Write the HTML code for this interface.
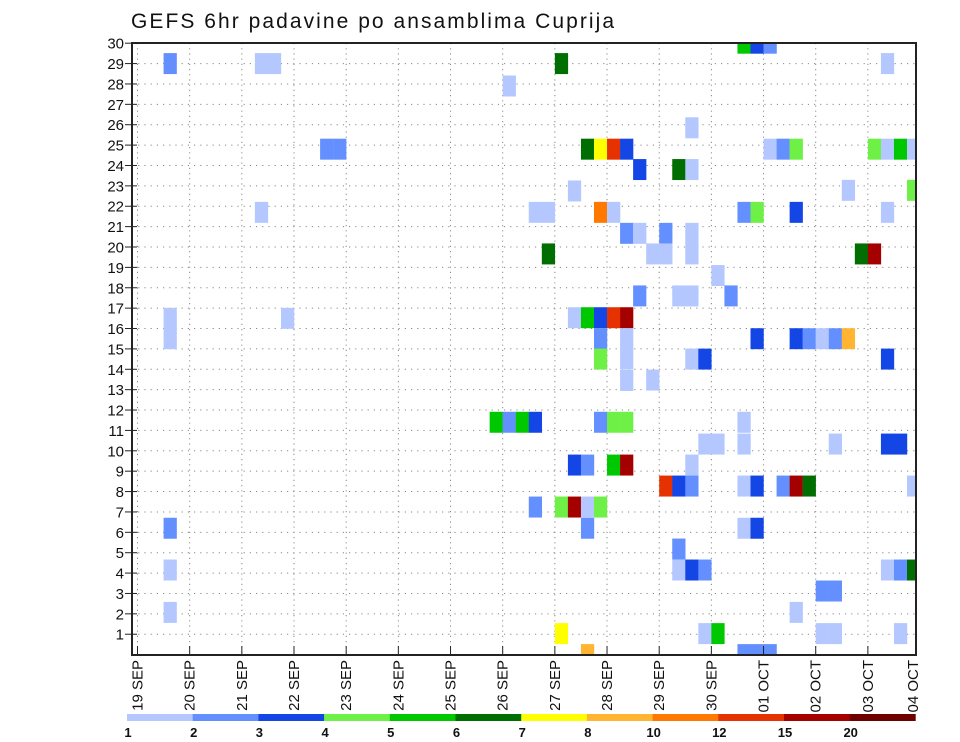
<!DOCTYPE html>
<html><head><meta charset="utf-8"><style>
html,body{margin:0;padding:0;background:#fff;}
svg{display:block;font-family:"Liberation Sans",sans-serif;}
</style></head><body>
<svg id="chart" width="960" height="742" viewBox="0 0 960 742" xmlns="http://www.w3.org/2000/svg">
<text x="131" y="28" font-size="21" fill="#111" textLength="483" lengthAdjust="spacing">GEFS 6hr padavine po ansamblima Cuprija</text>
<defs><clipPath id="plotclip"><rect x="132" y="43" width="784" height="612"/></clipPath></defs>
<g id="grid"></g>
<g id="cells" clip-path="url(#plotclip)"></g>
<g id="axes"></g>
<g id="cbar"></g>
</svg>
<script>
const dayLabels=["19 SEP","20 SEP","21 SEP","22 SEP","23 SEP","24 SEP","25 SEP","26 SEP","27 SEP","28 SEP","29 SEP","30 SEP","01 OCT","02 OCT","03 OCT","04 OCT"];
const memberTicks=[1,2,3,4,5,6,7,8,9,10,11,12,13,14,15,16,17,18,19,20,21,22,23,24,25,26,27,28,29,30];
const levelLabels=["1","2","3","4","5","6","7","8","10","12","15","20"];
const levelColors=["#b4c8ff","#6490ff","#1446e6","#6ef046","#00c800","#006e00","#ffff00","#ffb432","#ff7800","#e63200","#a50000","#6e0000"];
const cellCol=[2,9,10,14,15,9,11,2,2,2,2,2,
32,28,42,34,35,36,37,38,41,42,33,30,31,35,36,37,38,40,42,31,39,40,42,44,38,41,42,45,
33,34,35,36,37,35,37,35,37,42,43,37,39,27,28,29,30,35,36,37,43,44,33,34,36,37,42,
40,41,42,30,32,33,34,35,34,41,41,42,43,32,43,44,34,
46,47,48,57,48,49,50,56,57,58,59,54,59,46,47,50,57,55,56,47,50,51,52,53,54,57,
46,46,53,57,58,46,47,49,50,51,59,46,47,57,58,59,52,53,50,52,53,58,46,47,48];
const cellMember=[29,29,29,24.8,24.8,21.7,16.5,16.5,15.5,6.2,4.15,2.07,
29,27.9,25.85,24.8,24.8,24.8,24.8,23.8,23.8,23.8,22.75,21.7,21.7,21.7,21.7,20.67,20.67,20.67,20.67,19.66,19.66,19.66,19.66,18.6,17.6,17.6,17.6,17.6,
16.53,16.53,16.53,16.53,16.53,15.5,15.5,14.5,14.5,14.5,14.5,13.45,13.47,11.4,11.4,11.4,11.4,11.4,11.4,11.4,10.33,10.33,9.3,9.3,9.3,9.3,9.3,
8.27,8.27,8.27,7.24,7.24,7.24,7.24,7.24,6.2,5.18,4.15,4.15,4.15,1.03,1.03,1.03,0,
30,30,30,29,24.8,24.8,24.8,24.8,24.8,24.8,24.8,22.78,22.78,21.7,21.7,21.7,21.7,19.66,19.66,15.5,15.5,15.5,15.5,15.5,15.5,14.5,
11.4,10.33,10.33,10.33,10.33,8.27,8.27,8.27,8.27,8.27,8.27,6.2,6.2,4.15,4.15,4.15,3.12,3.12,2.07,1.03,1.03,1.03,0,0,0];
const cellLevel=[1,0,0,1,1,0,0,0,0,1,0,0,
5,0,0,5,6,9,2,2,5,0,0,0,0,8,0,1,0,1,0,5,0,0,0,0,1,0,0,1,
0,4,2,9,10,1,0,3,0,0,2,0,0,4,1,4,2,1,3,3,0,0,2,1,4,10,0,
9,2,1,1,3,10,0,3,1,1,0,2,1,6,0,4,7,
4,2,1,0,0,1,3,3,0,4,0,0,3,1,3,2,0,5,10,2,2,1,0,1,7,2,
0,0,0,2,2,0,2,1,10,5,0,0,2,0,1,5,1,1,0,0,0,0,1,1,1];

const NS="http://www.w3.org/2000/svg";
const X0=137.5, DAYW=52.17, CW=DAYW/4, YB=654.6, RH=20.38;
const PL=132, PR=916, PT=43, PB=655;
function xCol(i){return X0+i*CW;}
function xDay(d){return X0+d*DAYW;}
function yMem(m){return YB-m*RH;}
function mk(tag,attrs,parent){const e=document.createElementNS(NS,tag);for(const k in attrs)e.setAttribute(k,attrs[k]);parent.appendChild(e);return e;}

const grid=document.getElementById('grid');
memberTicks.forEach(m=>{
  if(m>=30) return;
  const l=mk('line',{x1:PL,x2:PR,y1:yMem(m),y2:yMem(m),stroke:'#888','stroke-width':1,'stroke-dasharray':'1.2,5'},grid);
  
  
});
dayLabels.forEach((d,k)=>{
  const x=xDay(k); if(x>PR-2) return;
  const l=mk('line',{x1:x,x2:x,y1:PT,y2:PB,stroke:'#888','stroke-width':1,'stroke-dasharray':'1.2,4'},grid);
  
  
});

const cells=document.getElementById('cells');
for(let n=0;n<cellCol.length;n++){
  const r=mk('rect',{x:xCol(cellCol[n]),y:yMem(cellMember[n])-RH/2-0.3,width:CW+0.2,height:RH+0.6,fill:levelColors[cellLevel[n]]},cells);
  
  
}

const axes=document.getElementById('axes');
const frame=mk('rect',{x:PL,y:PT,width:PR-PL,height:PB-PT,fill:'none',stroke:'#222','stroke-width':2},axes);


memberTicks.forEach(m=>{
  const y=yMem(m);
  mk('line',{x1:PL-7,x2:PL+5,y1:y,y2:y,stroke:'#222','stroke-width':1},axes);
  const t=mk('text',{x:PL-8,y:y+5.5,'font-size':15,'text-anchor':'end',fill:'#111'},axes);
  t.textContent=m;
  
  
});
dayLabels.forEach((d,k)=>{
  const x=Math.min(xDay(k),PR-3);
  mk('line',{x1:xDay(k)>PR?PR:x,x2:xDay(k)>PR?PR:x,y1:PB-9,y2:PB,stroke:'#222','stroke-width':1},axes);
  const t=mk('text',{x:0,y:0,'font-size':15,'text-anchor':'end',fill:'#111',transform:`translate(${x+5},${PB+5}) rotate(-90)`},axes);
  t.textContent=d;
  
  
});

const cbar=document.getElementById('cbar');
const CB0=127, CBW=65.7;
levelColors.forEach((c,k)=>{
  const r=mk('rect',{x:CB0+k*CBW,y:714,width:CBW+0.3,height:7,fill:c},cbar);
  
  
});
levelLabels.forEach((s,k)=>{
  const t=mk('text',{x:CB0+k*CBW+1,y:737,'font-size':13,'font-weight':'bold','text-anchor':'middle',fill:'#111'},cbar);
  t.textContent=s;
  
  
});
</script>
</body></html>
